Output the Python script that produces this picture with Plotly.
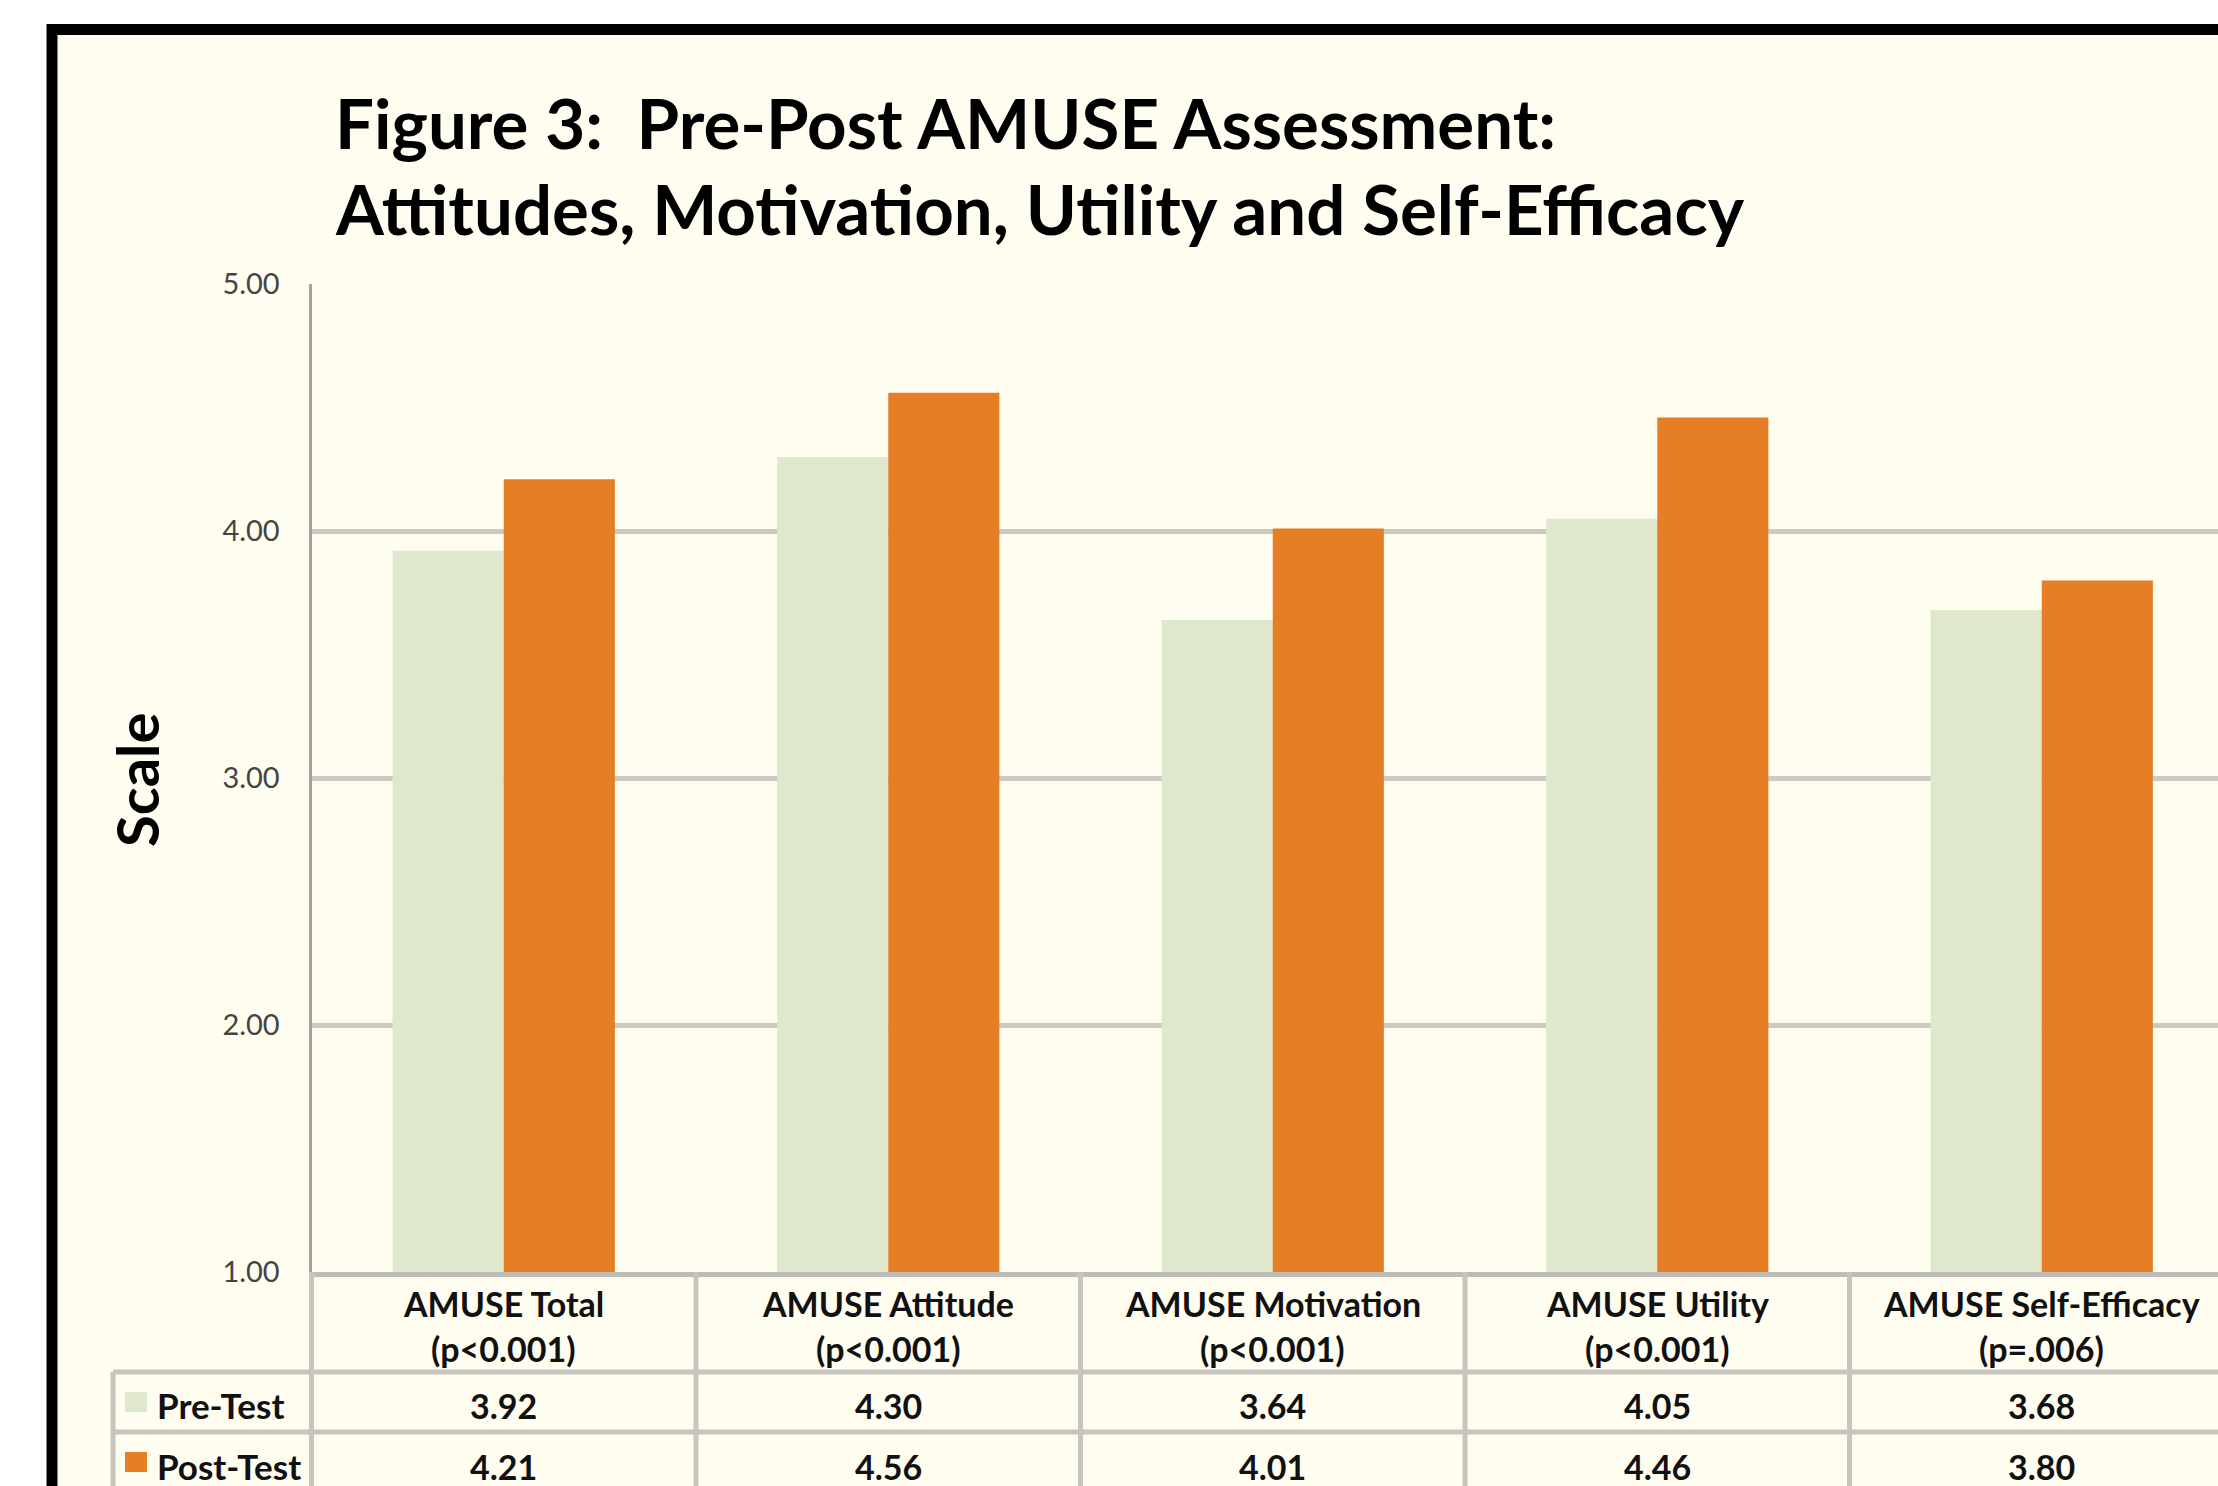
import plotly.graph_objects as go

# chart data
categories = ['AMUSE Total', 'AMUSE Attitude', 'AMUSE Motivation', 'AMUSE Utility', 'AMUSE Self-Efficacy']
p_values = ['(p<0.001)', '(p<0.001)', '(p<0.001)', '(p<0.001)', '(p=.006)']
pre_test = [3.92, 4.30, 3.64, 4.05, 3.68]
post_test = [4.21, 4.56, 4.01, 4.46, 3.80]
series_names = ['Pre-Test', 'Post-Test']
tick_vals = [1, 2, 3, 4, 5]
tick_text = ['1.00', '2.00', '3.00', '4.00', '5.00']

W, H = 2218, 1486
FONT = 'Lato'
CREAM = '#FFFCF0'
PRE_COLOR = '#DFE8CC'
POST_COLOR = '#E67E26'
GRID = '#CCCAC3'
TABLE_LINE = '#C6C5BE'
TEXT = '#111111'


def px(x):
    # window pixel -> paper x
    return x / W


def py(y):
    # window pixel -> paper y
    return 1 - y / H


X_DOMAIN = [px(311.5), 1.0]
X_RANGE = [-0.5, -0.5 + (W - 311.5) / 384.5]


def x_paper(v):
    # map a category position onto paper coordinates, same as the x axis does
    return X_DOMAIN[0] + (v - X_RANGE[0]) / (X_RANGE[1] - X_RANGE[0]) * (X_DOMAIN[1] - X_DOMAIN[0])


fig = go.Figure()
fig.add_trace(go.Bar(x=categories, y=pre_test, name=series_names[0],
                     marker=dict(color=PRE_COLOR, line=dict(width=0))))
fig.add_trace(go.Bar(x=categories, y=post_test, name=series_names[1],
                     marker=dict(color=POST_COLOR, line=dict(width=0))))

shapes = []
# cream page with black frame on the top and left
shapes.append(dict(type='rect', xref='paper', yref='paper', layer='below',
                   x0=px(52), x1=1.0, y0=0.0, y1=py(29.5),
                   fillcolor=CREAM, line=dict(width=0)))
shapes.append(dict(type='line', xref='paper', yref='paper',
                   x0=px(47), x1=1.0, y0=py(29.5), y1=py(29.5),
                   line=dict(color='black', width=11)))
shapes.append(dict(type='line', xref='paper', yref='paper',
                   x0=px(52), x1=px(52), y0=0.0, y1=py(24),
                   line=dict(color='black', width=11)))

# data table lines
for yy in [1372, 1432]:
    shapes.append(dict(type='line', xref='paper', yref='paper',
                       x0=px(113), x1=1.0, y0=py(yy), y1=py(yy),
                       line=dict(color=TABLE_LINE, width=5)))
shapes.append(dict(type='line', xref='paper', yref='paper',
                   x0=px(113), x1=px(113), y0=py(1372), y1=0.0,
                   line=dict(color=TABLE_LINE, width=5)))
for i in range(len(categories)):
    xb = x_paper(i - 0.5)
    shapes.append(dict(type='line', xref='paper', yref='paper',
                       x0=xb, x1=xb, y0=py(1272), y1=0.0,
                       line=dict(color=TABLE_LINE, width=5)))

# legend keys inside the table
for yy, col in [(1402, PRE_COLOR), (1462, POST_COLOR)]:
    shapes.append(dict(type='rect', xref='paper', yref='paper',
                       x0=px(125), x1=px(147), y0=py(yy + 10), y1=py(yy - 10),
                       fillcolor=col, line=dict(width=0)))

annotations = []
# title
annotations.append(dict(text='<b>Figure 3:  Pre-Post AMUSE Assessment:</b>', xref='paper', yref='paper',
                        x=px(333), y=py(122), xanchor='left', yanchor='middle', showarrow=False,
                        font=dict(family=FONT, size=69, color='black')))
annotations.append(dict(text='<b>Attitudes, Motivation, Utility and Self-Efficacy</b>', xref='paper', yref='paper',
                        x=px(333), y=py(209), xanchor='left', yanchor='middle', showarrow=False,
                        font=dict(family=FONT, size=69, color='black')))
# y axis title
annotations.append(dict(text='<b>Scale</b>', xref='paper', yref='paper', textangle=-90,
                        x=px(136), y=py(780), xanchor='center', yanchor='middle', showarrow=False,
                        font=dict(family=FONT, size=58, color='black')))

# table contents
for cat, pv, a, b in zip(categories, p_values, pre_test, post_test):
    annotations.append(dict(text='<b>' + cat + '</b>', xref='x', yref='paper', x=cat, y=py(1303),
                            xanchor='center', yanchor='middle', showarrow=False,
                            font=dict(family=FONT, size=34, color=TEXT)))
    annotations.append(dict(text='<b>' + pv + '</b>', xref='x', yref='paper', x=cat, y=py(1348),
                            xanchor='center', yanchor='middle', showarrow=False,
                            font=dict(family=FONT, size=34, color=TEXT)))
    annotations.append(dict(text='<b>%.2f</b>' % a, xref='x', yref='paper', x=cat, y=py(1405),
                            xanchor='center', yanchor='middle', showarrow=False,
                            font=dict(family=FONT, size=34, color=TEXT)))
    annotations.append(dict(text='<b>%.2f</b>' % b, xref='x', yref='paper', x=cat, y=py(1466),
                            xanchor='center', yanchor='middle', showarrow=False,
                            font=dict(family=FONT, size=34, color=TEXT)))

for name, yy in zip(series_names, [1405, 1466]):
    annotations.append(dict(text='<b>' + name + '</b>', xref='paper', yref='paper', x=px(155), y=py(yy),
                            xanchor='left', yanchor='middle', showarrow=False,
                            font=dict(family=FONT, size=35, color=TEXT)))

fig.update_layout(
    width=W, height=H, autosize=False,
    margin=dict(l=0, r=0, t=0, b=0, pad=0, autoexpand=False),
    paper_bgcolor='white',
    plot_bgcolor=CREAM,
    barmode='group', bargap=0.422, bargroupgap=0,
    showlegend=False,
    shapes=shapes,
    annotations=annotations,
    xaxis=dict(domain=X_DOMAIN, range=X_RANGE, type='category', showticklabels=False,
               showgrid=False, showline=True, linecolor='#BDBCB6', linewidth=5, ticks=''),
    yaxis=dict(domain=[py(1272), py(284)], range=[1, 5], tickvals=tick_vals, ticktext=tick_text,
               showgrid=True, gridcolor=GRID, gridwidth=5, zeroline=False,
               showline=True, linecolor='#A3A3A3', linewidth=3,
               ticks='outside', ticklen=23, tickcolor='rgba(0,0,0,0)',
               tickfont=dict(family=FONT, size=29, color='#444444')),
)

# drop the default body margin so the figure fills the window exactly
fig.write_html('out.html', config={'displayModeBar': False},
               post_script="document.body.style.margin = '0';")
